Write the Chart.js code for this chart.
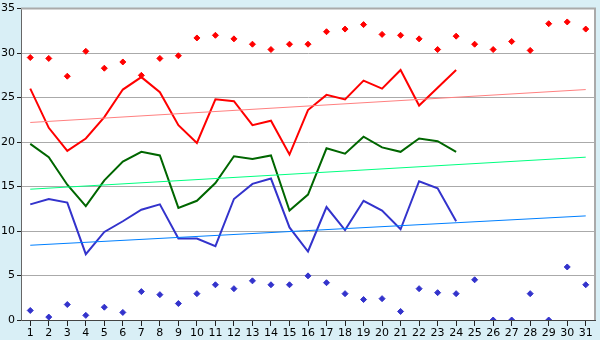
<!DOCTYPE html>
<html>
<head>
<meta charset="utf-8">
<script src="https://cdn.jsdelivr.net/npm/chart.js@4/dist/chart.umd.min.js"></script>
<style>
  html, body { margin: 0; padding: 0; background: #d9eff6; }
  canvas { display: block; }
</style>
</head>
<body>
<canvas id="chart" width="600" height="340"></canvas>
<script>
const days = [];
for (let d = 1; d <= 31; d++) days.push(String(d));

const maxLine = [26.0, 21.6, 19.0, 20.4, 22.8, 25.9, 27.3, 25.6, 21.9, 19.9,
  24.8, 24.6, 21.9, 22.4, 18.6, 23.6, 25.3, 24.8, 26.9, 26.0,
  28.1, 24.1, 26.1, 28.1];
const meanLine = [19.8, 18.3, 15.2, 12.8, 15.7, 17.8, 18.9, 18.5, 12.6, 13.4,
  15.4, 18.4, 18.1, 18.5, 12.3, 14.1, 19.3, 18.7, 20.6, 19.4,
  18.9, 20.4, 20.1, 18.9];
const minLine = [13.0, 13.6, 13.2, 7.4, 9.9, 11.1, 12.4, 13.0, 9.15, 9.15,
  8.3, 13.6, 15.3, 15.9, 10.4, 7.7, 12.7, 10.1, 13.4, 12.3,
  10.2, 15.6, 14.8, 11.1];

const recordHigh = [29.5, 29.4, 27.4, 30.2, 28.3, 29.0, 27.5, 29.4, 29.7, 31.7,
  32.0, 31.6, 31.0, 30.4, 31.0, 31.0, 32.4, 32.7, 33.2, 32.1,
  32.0, 31.6, 30.4, 31.9, 31.0, 30.4, 31.3, 30.3, 33.3, 33.5, 32.7];
const recordLow = [1.07, 0.33, 1.74, 0.52, 1.44, 0.85, 3.19, 2.85, 1.85, 2.96,
  3.96, 3.52, 4.4, 3.96, 3.96, 4.96, 4.19, 2.96, 2.3, 2.4,
  0.96, 3.52, 3.07, 2.96, 4.52, 0, 0, 2.96, 0, 5.96, 3.96];

// trend endpoints (day 1, day 31)
const maxTrend = [22.2, 25.9];
const meanTrend = [14.7, 18.3];
const minTrend = [8.4, 11.7];

const ends = (t) => [{ x: days[0], y: t[0] }, { x: days[30], y: t[1] }];

const chartBg = {
  id: "chartBg",
  beforeDraw(chart) {
    const { ctx, chartArea: a } = chart;
    ctx.save();
    ctx.fillStyle = "#d9eff6";
    ctx.fillRect(0, 0, chart.width, chart.height);
    ctx.fillStyle = "#ffffff";
    ctx.fillRect(a.left, a.top, a.right - a.left, a.bottom - a.top);
    ctx.restore();
  },
  afterDraw(chart) {
    const { ctx, chartArea: a } = chart;
    ctx.save();
    ctx.strokeStyle = "#aaaaaa";
    ctx.lineWidth = 2;
    ctx.beginPath();
    ctx.moveTo(a.left, a.top);
    ctx.lineTo(a.right, a.top);
    ctx.lineTo(a.right, a.bottom);
    ctx.stroke();
    ctx.restore();
  }
};

const font = { family: "DejaVu Sans", size: 11 };

new Chart(document.getElementById("chart").getContext("2d"), {
  type: "line",
  data: {
    labels: days,
    datasets: [
      { data: ends(maxTrend), borderColor: "#ff8080", borderWidth: 1, pointRadius: 0 },
      { data: ends(meanTrend), borderColor: "#00ff80", borderWidth: 1, pointRadius: 0 },
      { data: ends(minTrend), borderColor: "#0080ff", borderWidth: 1, pointRadius: 0 },
      { data: maxLine, borderColor: "#ff0000", borderWidth: 2, pointRadius: 0 },
      { data: meanLine, borderColor: "#006600", borderWidth: 2, pointRadius: 0 },
      { data: minLine, borderColor: "#3333cc", borderWidth: 2, pointRadius: 0 },
      { data: recordHigh, showLine: false, pointStyle: "rectRot", pointRadius: 3,
        backgroundColor: "#ff0000", borderColor: "#ff0000", borderWidth: 1 },
      { data: recordLow, showLine: false, pointStyle: "rectRot", pointRadius: 3,
        backgroundColor: "#3333cc", borderColor: "#3333cc", borderWidth: 1 }
    ]
  },
  options: {
    responsive: false,
    animation: false,
    devicePixelRatio: 1,
    layout: { padding: { top: 5, right: 5, left: 0, bottom: 0 } },
    plugins: { legend: { display: false }, tooltip: { enabled: false } },
    scales: {
      x: {
        offset: true,
        grid: { drawOnChartArea: false, drawTicks: true, tickLength: 6, tickColor: "#222", offset: false },
        border: { color: "#444", width: 1 },
        ticks: { font, color: "#000", padding: 1, maxRotation: 0, autoSkip: false },
        afterFit: (s) => { s.height = 20; }
      },
      y: {
        min: 0,
        max: 35,
        grid: { color: "#aaaaaa", tickLength: 4, tickColor: "#222" },
        border: { color: "#666", width: 1 },
        ticks: { stepSize: 5, font, color: "#000", padding: 2 },
        afterFit: (s) => { s.width = 21; }
      }
    }
  },
  plugins: [chartBg]
});
</script>
</body>
</html>
